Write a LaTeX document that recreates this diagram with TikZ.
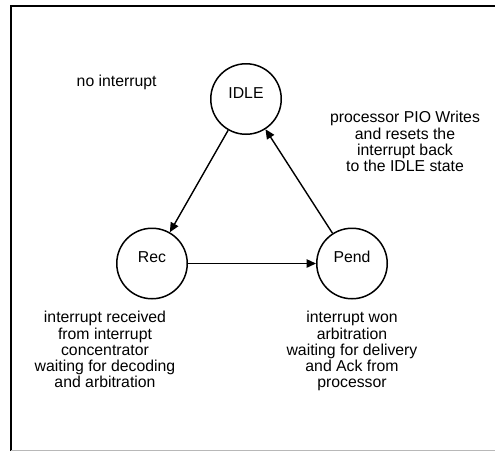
\documentclass[tikz,border=0pt]{standalone}
\usepackage{fontspec}
\setmainfont{Liberation Sans}
\usetikzlibrary{arrows.meta}
\tikzset{
  state/.style={draw, circle, line width=1.5pt, minimum size=70.5pt, inner sep=0pt},
  statelabel/.style={anchor=base, inner sep=0pt, font=\fontsize{15.8}{16}\selectfont},
  note/.style={anchor=north, inner sep=0pt, align=center, font=\fontsize{15.8}{16}\selectfont},
  trans/.style={line width=1.4pt, -{Triangle[length=9.5pt,width=8.5pt]}},
  frame/.style={line width=2pt, black},
}
\begin{document}
\begin{tikzpicture}[x=1pt,y=-1pt]
\useasboundingbox (0,0) rectangle (495,451);
% frame
\draw[frame] (11,451) -- (11,5.5) -- (495,5.5);
\draw[line width=1pt, black!28] (11,450.3) -- (495,450.3);
% states
\node[state] (idle) at (246,99) {};
\node[state] (rec) at (152,263.5) {};
\node[state] (pend) at (352,263.5) {};
\node[statelabel] (idlet) at (246,98.3) {IDLE};
\node[statelabel] (rect) at (152,262.7) {Rec};
\node[statelabel] (pendt) at (352,262.7) {Pend};
% transitions
\draw[trans] (idle) -- (rec);
\draw[trans] (rec) -- (pend);
\draw[trans] (pend) -- (idle);
% notes
\node[statelabel] (noint) at (116.7,86.7) {no interrupt};
\node[note] (idlenote) at (405,110.5) {\strut processor PIO Writes\\and resets the\\interrupt back\\to the IDLE state};
\node[note] (recnote) at (105,310.5) {\strut interrupt received\\from interrupt\\concentrator\\waiting for decoding\\and arbitration};
\node[note] (pendnote) at (352,310.5) {\strut interrupt won\\arbitration\\waiting for delivery\\and Ack from\\processor};
\end{tikzpicture}
\end{document}
